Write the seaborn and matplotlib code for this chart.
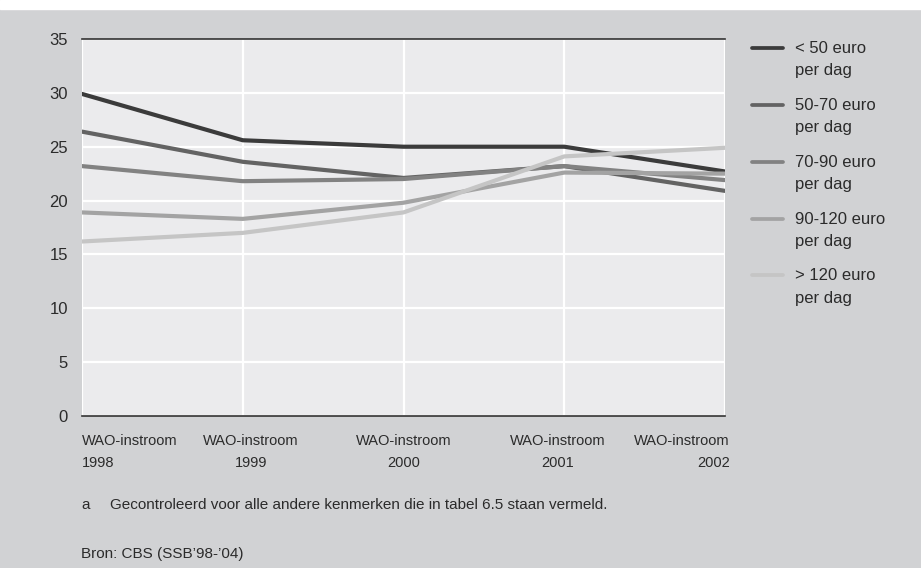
import numpy as np
import pandas as pd
import matplotlib
matplotlib.use("Agg")
import matplotlib.pyplot as plt
import matplotlib.transforms as mtransforms
from matplotlib.legend_handler import HandlerLine2D
from matplotlib.lines import Line2D
import seaborn as sns

# data (percentages)
years = [1998, 1999, 2000, 2001, 2002]
groups = ["< 50 euro\nper dag", "50-70 euro\nper dag", "70-90 euro\nper dag",
          "90-120 euro\nper dag", "> 120 euro\nper dag"]
lt50 = [29.9, 25.6, 25.0, 25.0, 22.7]
e50_70 = [26.4, 23.6, 22.1, 23.2, 20.9]
e70_90 = [23.2, 21.8, 22.0, 23.2, 21.9]
e90_120 = [18.9, 18.3, 19.8, 22.6, 22.5]
gt120 = [16.2, 17.0, 18.9, 24.1, 24.9]
xlabels = ["WAO-instroom\n1998", "WAO-instroom\n1999", "WAO-instroom\n2000",
           "WAO-instroom\n2001", "WAO-instroom\n2002"]
colors = ["#3b3b3b", "#636363", "#828282", "#a3a3a3", "#c5c5c5"]

df = pd.DataFrame({
    "jaar": years * 5,
    "groep": np.repeat(groups, len(years)),
    "pct": lt50 + e50_70 + e70_90 + e90_120 + gt120,
})

sns.set_style("white")
plt.rcParams["font.family"] = ["Liberation Sans", "DejaVu Sans"]
txt = "#2b2b2b"

fig = plt.figure(figsize=(9.21, 5.68), dpi=100, facecolor="#d1d2d4")
# white strip at the very top
fig.patches.append(plt.Rectangle((0, 1 - 9 / 568), 1, 9 / 568, transform=fig.transFigure,
                                 color="white", zorder=0))
ax = fig.add_axes([82 / 921, 1 - 416 / 568, 643 / 921, 377 / 568])
ax.set_facecolor("#ebebed")

sns.lineplot(data=df, x="jaar", y="pct", hue="groep", hue_order=groups,
             palette=colors, linewidth=3.0, ax=ax, legend=False)

ax.set_xlim(1998, 2002)
ax.set_ylim(0, 35)
ax.set_yticks(range(0, 36, 5))
ax.set_xticks(years)
ax.set_xticklabels(xlabels, fontsize=10.5, color=txt, linespacing=1.75)
ax.set_xlabel("")
ax.set_ylabel("")
ax.grid(True, color="white", linewidth=1.6)
ax.set_axisbelow(True)
for s in ["left", "right"]:
    ax.spines[s].set_visible(False)
for s in ["top", "bottom"]:
    ax.spines[s].set_color("#333333")
    ax.spines[s].set_linewidth(1.2)
ax.tick_params(axis="y", length=0, pad=10, labelsize=12, labelcolor=txt)
ax.tick_params(axis="x", length=5, width=1, color="#333333", pad=8, direction="out")

# align the x tick labels like the original
shifts = [0, 8, 0, -7, 5]
aligns = ["left", "center", "center", "center", "right"]
for lab, dx, ha in zip(ax.get_xticklabels(), shifts, aligns):
    lab.set_ha(ha)
    lab.set_multialignment(ha)
    lab.set_transform(lab.get_transform() + mtransforms.ScaledTranslation(dx / 100, 0, fig.dpi_scale_trans))


class TopLine(HandlerLine2D):
    # put the legend line next to the first line of a two-line label
    def create_artists(self, legend, orig_handle, xdescent, ydescent, width, height, fontsize, trans):
        arts = super().create_artists(legend, orig_handle, xdescent, ydescent, width, height, fontsize, trans)
        for a in arts:
            if isinstance(a, Line2D):
                a.set_ydata(np.asarray(a.get_ydata()) + fontsize * 0.71)
        return arts


handles = [Line2D([], [], color=c, linewidth=2.7) for c in colors]
leg = ax.legend(handles, groups, loc="upper left", bbox_to_anchor=(752 / 921, 1 - 41 / 568),
                bbox_transform=fig.transFigure, frameon=False, fontsize=12,
                handlelength=1.85, handletextpad=0.72, labelspacing=1.18, borderpad=0,
                borderaxespad=0, handler_map={Line2D: TopLine()})
for t in leg.get_texts():
    t.set_linespacing(1.6)
    t.set_color(txt)

fig.text(81 / 921, 1 - 505 / 568, "a", fontsize=11, color=txt, va="center")
fig.text(110 / 921, 1 - 505 / 568, "Gecontroleerd voor alle andere kenmerken die in tabel 6.5 staan vermeld.",
         fontsize=11, color=txt, va="center")
fig.text(81 / 921, 1 - 554 / 568, "Bron: CBS (SSB’98-’04)", fontsize=11, color=txt, va="center")

fig.savefig("out.png", dpi=100, facecolor=fig.get_facecolor())
